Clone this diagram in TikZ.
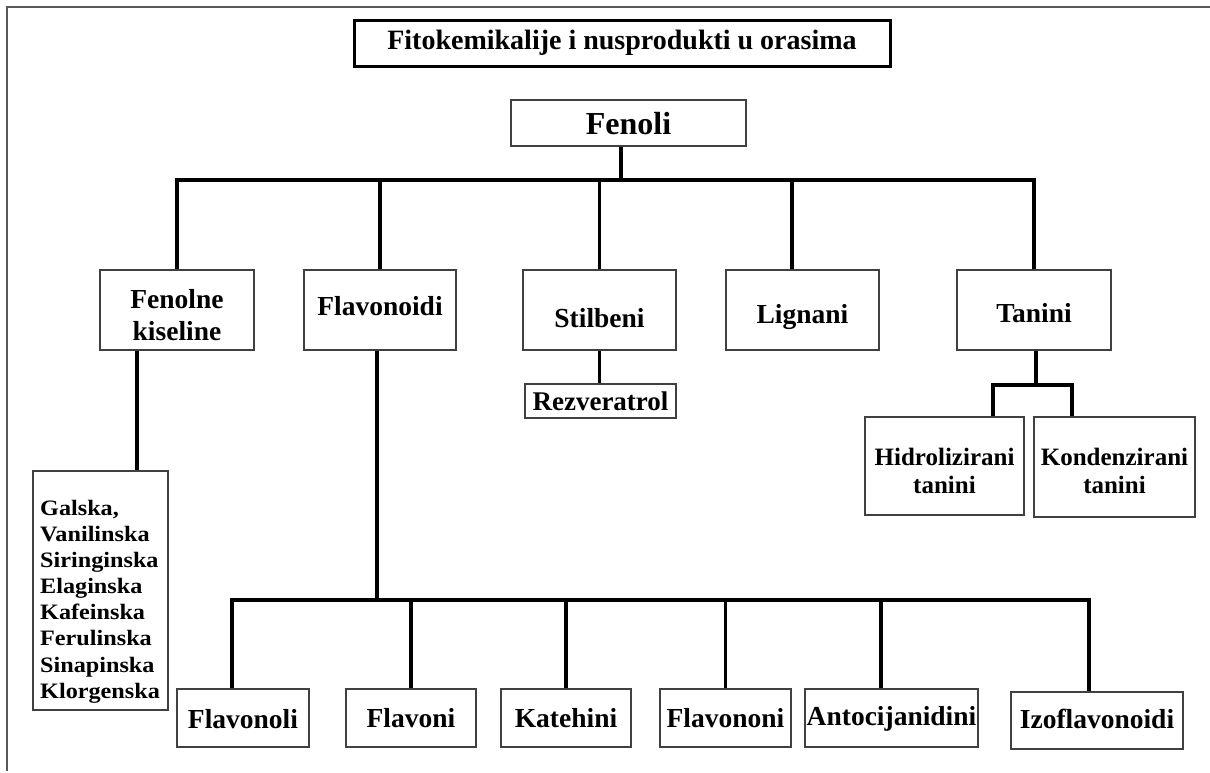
\documentclass[tikz,border=0pt]{standalone}
\usepackage{fontspec}
\setmainfont{Liberation Serif}
\newfontfamily\listfont[FakeStretch=1.1]{Liberation Serif}
\begin{document}
\begin{tikzpicture}[x=1pt,y=-1pt]
\tikzset{
  box/.style={draw=black!75, line width=1.5pt, inner sep=0pt, align=center,
    font=\fontsize{27.5}{32}\selectfont\bfseries},
  bl/.style={text height=#1, text depth=0pt},
  conn/.style={line width=3.2pt, draw=black},
  frame/.style={line width=1.8pt, draw=black!65},
}
\useasboundingbox (0,0) rectangle (1210,773);
% outer frame
\draw[frame] (1210,7) -- (7,7) -- (7,771);
% title
\node[box, draw=black, line width=3pt, minimum width=536pt, minimum height=46pt, bl=10.6pt,
  font=\fontsize{28}{32}\selectfont\bfseries] (title) at (622,44) {Fitokemikalije i nusprodukti u orasima};
\node[box, minimum width=235pt, minimum height=46pt, bl=24pt,
  font=\fontsize{32}{36}\selectfont\bfseries] (fenoli) at (628.5,123) {Fenoli};
% level 2
\node[box, minimum width=154pt, minimum height=80pt, bl=60pt] (fk) at (177,310) {Fenolne\\kiseline};
\node[box, minimum width=152pt, minimum height=80pt, bl=10pt] (flav) at (380,310) {Flavonoidi};
\node[box, minimum width=153pt, minimum height=80pt, bl=34pt] (stil) at (599.5,310) {Stilbeni};
\node[box, minimum width=153pt, minimum height=80pt, bl=26pt] (lign) at (802.5,310) {Lignani};
\node[box, minimum width=154pt, minimum height=80pt, bl=24pt] (tan) at (1034,310) {Tanini};
% sub boxes
\node[box, minimum width=151pt, minimum height=34pt, bl=18pt,
  font=\fontsize{27}{30}\selectfont\bfseries] (rez) at (600.5,401) {Rezveratrol};
\node[box, minimum width=135pt, minimum height=239pt] (galska) at (100.5,590.5) {};
\node[anchor=north west, inner sep=0pt, align=left,
  font=\listfont\fontsize{22}{26.1}\selectfont\bfseries] (galskatxt) at (40,500)
  {Galska,\\Vanilinska\\Siringinska\\Elaginska\\Kafeinska\\Ferulinska\\Sinapinska\\Klorgenska};
\node[box, minimum width=159pt, minimum height=98pt, bl=54pt,
  font=\fontsize{25}{28}\selectfont\bfseries] (hid) at (944.5,466) {Hidrolizirani\\tanini};
\node[box, minimum width=161pt, minimum height=100pt, bl=52pt,
  font=\fontsize{25}{28}\selectfont\bfseries] (kon) at (1114.5,467) {Kondenzirani\\tanini};
% bottom row
\node[box, minimum width=132pt, minimum height=58pt, bl=20pt] (fnl) at (243,718) {Flavonoli};
\node[box, minimum width=130pt, minimum height=58pt, bl=18pt] (fvn) at (411,718) {Flavoni};
\node[box, minimum width=130pt, minimum height=58pt, bl=18pt] (kat) at (566,718) {Katehini};
\node[box, minimum width=131pt, minimum height=58pt, bl=18pt] (fnn) at (725.5,718) {Flavononi};
\node[box, minimum width=173pt, minimum height=58pt, bl=14pt] (ant) at (891.5,718) {Antocijanidini};
\node[box, minimum width=172pt, minimum height=57pt, bl=15pt] (izo) at (1097,720.5) {Izoflavonoidi};
% connectors: Fenoli
\coordinate (top) at (621,180);
\draw[conn] (fenoli.south -| top) -- (top);
\draw[conn] (fk.north) |- (tan.north |- top) -- (tan.north);
\draw[conn] (flav.north) -- (flav.north |- top);
\draw[conn] (stil.north) -- (stil.north |- top);
\coordinate (lgd) at (792,180);
\draw[conn] (lgd) -- (lgd |- lign.north);
% Fenolne kiseline -> list
\coordinate (fkd) at (137,0);
\draw[conn] (fk.south -| fkd) -- (galska.north -| fkd);
% Stilbeni -> Rezveratrol
\draw[conn] (stil.south) -- (stil.south |- rez.north);
% Tanini -> sub
\coordinate (tb) at (1036,385);
\coordinate (tl) at (993,385);
\coordinate (tr) at (1072,385);
\draw[conn] (tan.south -| tb) -- (tb);
\draw[conn] (tl |- hid.north) -- (tl) -- (tr) -- (tr |- kon.north);
% Flavonoidi -> bottom row
\coordinate (fbus) at (377,600);
\coordinate (d1) at (232,600);
\coordinate (d5) at (881,600);
\coordinate (d6) at (1089,600);
\draw[conn] (flav.south -| fbus) -- (fbus);
\draw[conn] (d1 |- fnl.north) -- (d1) -- (d6) -- (d6 |- izo.north);
\draw[conn] (fvn.north) -- (fvn.north |- d1);
\draw[conn] (kat.north) -- (kat.north |- d1);
\draw[conn] (fnn.north) -- (fnn.north |- d1);
\draw[conn] (d5) -- (d5 |- ant.north);
\end{tikzpicture}
\end{document}
